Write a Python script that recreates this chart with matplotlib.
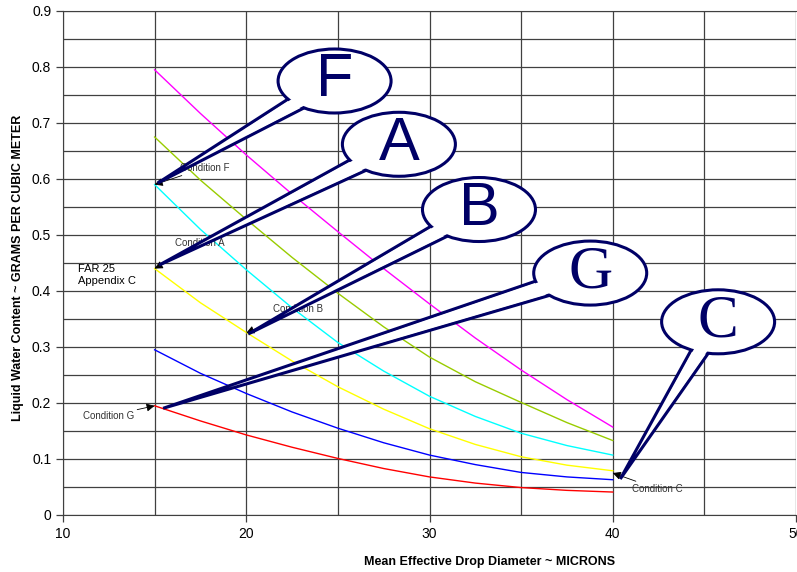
import numpy as np
import matplotlib.pyplot as plt
from matplotlib.patches import Ellipse, Polygon

plt.rcParams['font.family'] = ['Liberation Sans', 'DejaVu Sans']

# mean effective drop diameter (microns) and liquid water content (g/m^3)
diameter = [15, 17.5, 20, 22.5, 25, 27.5, 30, 32.5, 35, 37.5, 40]
lwc_1 = [0.795, 0.717, 0.643, 0.573, 0.506, 0.440, 0.377, 0.316, 0.259, 0.206, 0.157]
lwc_2 = [0.675, 0.598, 0.528, 0.460, 0.396, 0.336, 0.282, 0.238, 0.201, 0.165, 0.133]
lwc_3 = [0.590, 0.510, 0.438, 0.370, 0.308, 0.257, 0.212, 0.176, 0.146, 0.124, 0.107]
lwc_4 = [0.440, 0.379, 0.326, 0.275, 0.229, 0.189, 0.154, 0.126, 0.104, 0.089, 0.079]
lwc_5 = [0.295, 0.253, 0.217, 0.184, 0.155, 0.129, 0.107, 0.090, 0.076, 0.068, 0.063]
lwc_6 = [0.195, 0.168, 0.143, 0.121, 0.101, 0.083, 0.068, 0.057, 0.049, 0.044, 0.041]
curve_colors = ['#FF00FF', '#99CC00', '#00FFFF', '#FFFF00', '#0000FF', '#FF0000']

# test conditions
cond_names = ['Condition F', 'Condition A', 'Condition B', 'Condition G', 'Condition C']
cond_letters = ['F', 'A', 'B', 'G', 'C']
cond_d = [15, 15, 20, 15, 40]
cond_lwc = [0.590, 0.440, 0.325, 0.195, 0.075]

# where the small labels and the big balloons sit
label_xy = [(17.76, 0.62), (17.49, 0.485), (22.85, 0.367), (12.5, 0.177), (42.45, 0.0464)]
balloon_xy = [(24.82, 0.775), (28.33, 0.662), (32.70, 0.5455), (38.77, 0.432), (45.75, 0.345)]
tip_shift = [(3, 1.5), (4.5, 3.5), (2, -1), (8.5, -2.5), (7.5, -6)]
letter_family = ['Liberation Sans', 'Liberation Sans', 'Liberation Sans',
                 'Liberation Serif', 'Liberation Serif']
navy = '#000066'

fig = plt.figure(figsize=(7.97, 5.72), dpi=100)
ax = fig.add_axes([63 / 797, 57 / 572, 733 / 797, 504 / 572])
ax.set_xlim(10, 50)
ax.set_ylim(0, 0.9)

for lwc, col in zip([lwc_1, lwc_2, lwc_3, lwc_4, lwc_5, lwc_6], curve_colors):
    ax.plot(diameter, lwc, color=col, lw=1)

ax.set_xticks([10, 20, 30, 40, 50])
ax.set_xticks([15, 25, 35, 45], minor=True)
ax.set_yticks(np.round(np.arange(0, 0.91, 0.1), 2))
ax.set_yticks(np.round(np.arange(0.05, 0.9, 0.1), 2), minor=True)
ax.yaxis.set_major_formatter(lambda v, p: f'{v:g}')
ax.grid(True, which='both', color='#404040', lw=0.9)
ax.set_axisbelow(True)
ax.tick_params(which='minor', length=0)
ax.tick_params(which='major', direction='out', length=5, width=0.9,
               labelsize=10, color='#404040')
ax.spines['right'].set_visible(False)
for s in ['left', 'bottom', 'top']:
    ax.spines[s].set_color('#404040')

fig.text(490 / 797, 1 - 562 / 572, 'Mean Effective Drop Diameter ~ MICRONS',
         ha='center', va='center', fontsize=9, weight='bold')
fig.text(18 / 797, 1 - 268 / 572, 'Liquid Water Content ~ GRAMS PER CUBIC METER',
         ha='center', va='center', rotation=90, fontsize=9, weight='bold')

ax.text(10.82, 0.429, 'FAR 25\nAppendix C', fontsize=8, ha='left', va='center',
        linespacing=1.3)

for name, x, y, pos in zip(cond_names, cond_d, cond_lwc, label_xy):
    ax.annotate(name, xy=(x, y), xytext=pos, fontsize=7, color='#333333',
                ha='center', va='center',
                arrowprops=dict(arrowstyle='-|>', color='black', lw=0.6,
                                mutation_scale=12, shrinkA=0, shrinkB=0))


def balloon(center, tip, letter, family, z):
    to_px = ax.transData.transform
    to_data = ax.transData.inverted().transform
    c = to_px(center)
    t = to_px(tip)
    u = (t - c) / np.hypot(*(t - c))
    n = np.array([-u[1], u[0]])
    hw = 10
    b1, b2 = c + n * hw, c - n * hw
    ax.add_patch(Polygon(to_data([b1, t, b2]), closed=True, fc='white', ec=navy,
                         lw=2.2, joinstyle='miter', zorder=z))
    sx = to_px((1, 0))[0] - to_px((0, 0))[0]
    sy = to_px((0, 1))[1] - to_px((0, 0))[1]
    ax.add_patch(Ellipse(center, 113 / sx, 64 / sy, fc='white', ec=navy,
                         lw=2.2, zorder=z + 0.01))
    # white strip over the joint so the tail runs into the balloon
    pts = []
    for b, side in ((b1, -n), (b2, n)):
        e = (t - b) / np.hypot(*(t - b))
        inward = side - np.dot(side, e) * e
        inward /= np.hypot(*inward)
        pts.append((b + inward * 2.0, b + (t - b) * 0.5 + inward * 2.0))
    cover = [pts[0][0], pts[0][1], pts[1][1], pts[1][0]]
    ax.add_patch(Polygon(to_data(cover), closed=True, fc='white', ec='none',
                         zorder=z + 0.02))
    ax.text(center[0], center[1], letter, fontsize=44, family=family, color=navy,
            ha='center', va='center', zorder=z + 0.03)


for i, (x, y) in enumerate(zip(cond_d, cond_lwc)):
    p = ax.transData.transform((x, y)) + np.array(tip_shift[i])
    tip = ax.transData.inverted().transform(p)
    balloon(balloon_xy[i], tip, cond_letters[i], letter_family[i], 5 + i * 0.1)

fig.savefig('out.png', dpi=100)
